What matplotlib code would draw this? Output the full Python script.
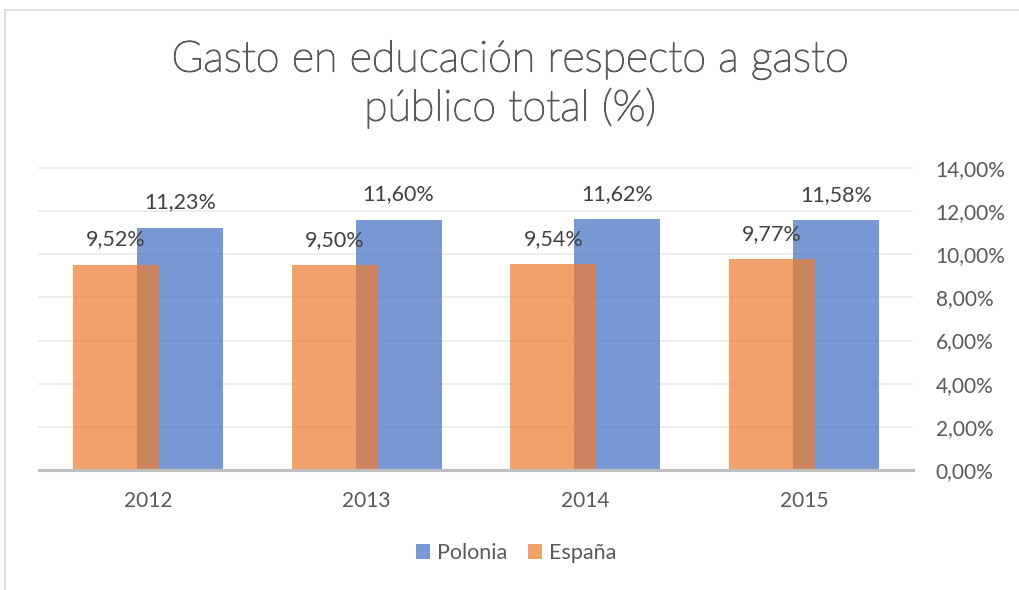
import matplotlib
matplotlib.use("Agg")
import matplotlib.pyplot as plt
import matplotlib.patheffects as pe
import numpy as np
from matplotlib.ticker import FuncFormatter
from matplotlib.patches import Patch

years = ["2012", "2013", "2014", "2015"]
polonia = [11.23, 11.60, 11.62, 11.58]
espana = [9.52, 9.50, 9.54, 9.77]
yticks = [0, 2, 4, 6, 8, 10, 12, 14]

plt.rcParams['font.family'] = ['Lato', 'DejaVu Sans']

fig = plt.figure(figsize=(10.2, 5.9), dpi=100)
ax = fig.add_axes([38.5/1020, 1-470/590, (913.5-38.5)/1020, (470-168)/590*15/14])

x = np.arange(len(years))
w = 0.393
off = 0.146
blue = "#4472C4"
orange = "#ED7D31"
bp = ax.bar(x + off, polonia, w, color=blue, alpha=0.72, zorder=2)
op = ax.bar(x - off, espana, w, color=orange, alpha=0.72, zorder=3)

for xi, v in zip(x, polonia):
    ax.annotate(f"{v:.2f}%".replace(".", ","), (xi + off, v), xytext=(0, 11),
                textcoords="offset points", ha="center", va="bottom",
                fontsize=15.5, color="#404040")
for xi, v in zip(x, espana):
    ax.annotate(f"{v:.2f}%".replace(".", ","), (xi - off, v), xytext=(0, 11),
                textcoords="offset points", ha="center", va="bottom",
                fontsize=15.5, color="#404040")

ax.set_xlim(-0.5, 3.5)
ax.set_ylim(0, 15)
ax.set_yticks(yticks)
ax.yaxis.set_major_formatter(FuncFormatter(lambda v, p: f"{v:.2f}%".replace(".", ",")))
ax.yaxis.tick_right()
ax.tick_params(axis='y', length=0, pad=16, labelsize=15, labelcolor="#595959")
ax.set_xticks(x)
ax.set_xticklabels(years)
ax.tick_params(axis='x', length=0, pad=15, labelsize=15, labelcolor="#595959")
ax.grid(axis='y', color="#ebebeb", linewidth=1.2, zorder=0)
for s in ["top", "right", "left"]:
    ax.spines[s].set_visible(False)
ax.spines["bottom"].set_color("#bfbfbf")
ax.spines["bottom"].set_linewidth(2.2)
ax.spines["bottom"].set_zorder(4)

title_fx = [pe.withStroke(linewidth=0.9, foreground="#595959")]
fig.text(0.5, 1-60/590, "Gasto en educación respecto a gasto", ha="center", va="center",
         fontsize=31, color="#595959", fontweight="light", path_effects=title_fx)
fig.text(0.5, 1-108/590, "público total (%)", ha="center", va="center",
         fontsize=31, color="#595959", fontweight="light", path_effects=title_fx)

handles = [Patch(facecolor=blue, alpha=0.72), Patch(facecolor=orange, alpha=0.72)]
fig.legend(handles, ["Polonia", "España"], loc="center", bbox_to_anchor=(0.506, 1-553/590),
           ncol=2, frameon=False, fontsize=15.5, labelcolor="#595959",
           handlelength=0.65, handleheight=0.65, handletextpad=0.3, columnspacing=1.0)

# chart border (top/left visible)
fig.add_artist(plt.Line2D([5/1020, 1], [1-10/590, 1-10/590], color="#d9d9d9", lw=1.2))
fig.add_artist(plt.Line2D([5/1020, 5/1020], [0, 1-10/590], color="#d9d9d9", lw=1.2))

fig.savefig("out.png", dpi=100)
